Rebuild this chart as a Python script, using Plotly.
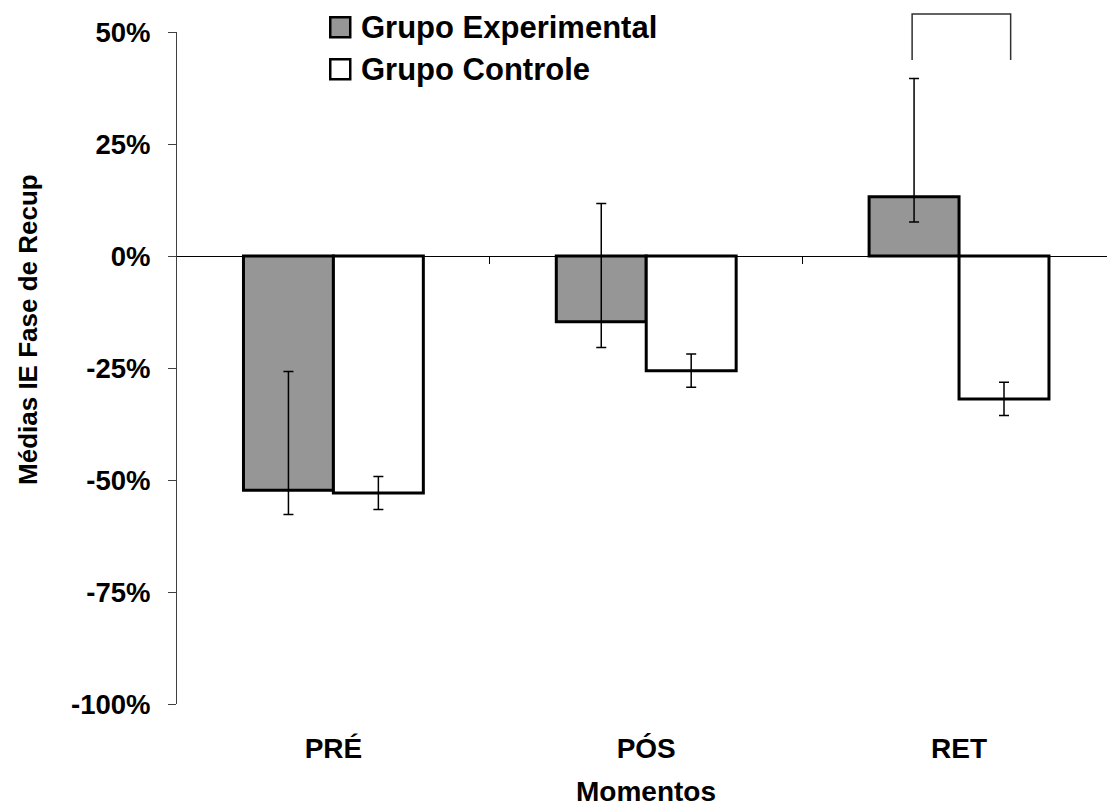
import plotly.graph_objects as go

# ---- data ----
categories = ["PRÉ", "PÓS", "RET"]
exp_vals = [-0.523, -0.147, 0.132]
ctrl_vals = [-0.529, -0.256, -0.319]
exp_err_plus = [0.265, 0.264, 0.264]
exp_err_minus = [0.054, 0.057, 0.056]
ctrl_err = [0.037, 0.037, 0.037]
y_tickvals = [-1.0, -0.75, -0.5, -0.25, 0.0, 0.25, 0.5]
y_ticktext = ["-100%", "-75%", "-50%", "-25%", "0%", "25%", "50%"]
series_names = ["Grupo Experimental", "Grupo Controle"]

FONT = "Liberation Sans, Arial, sans-serif"
GRAY = "#969696"

fig = go.Figure()
fig.add_trace(go.Bar(
    x=categories, y=exp_vals, name=series_names[0],
    marker=dict(color=GRAY, line=dict(color="black", width=3)),
    error_y=dict(type="data", symmetric=False, array=exp_err_plus,
                 arrayminus=exp_err_minus, color="black", thickness=1.5, width=5),
    showlegend=False,
))
fig.add_trace(go.Bar(
    x=categories, y=ctrl_vals, name=series_names[1],
    marker=dict(color="white", line=dict(color="black", width=3)),
    error_y=dict(type="data", array=ctrl_err, color="black", thickness=1.5, width=5),
    showlegend=False,
))
# invisible trace to carry the zero-crossing category axis
fig.add_trace(go.Scatter(x=categories, y=[None, None, None], xaxis="x2", yaxis="y",
                         showlegend=False, hoverinfo="skip", mode="lines"))

xr = [-0.5, 2.473]
fig.update_layout(
    width=1107, height=807,
    margin=dict(l=177, r=0, t=32, b=103),
    plot_bgcolor="white", paper_bgcolor="white",
    barmode="group", bargap=0.425, bargroupgap=0,
    showlegend=False,
    font=dict(family=FONT, color="black"),
    xaxis=dict(type="category", range=xr, showline=False, ticks="",
               showgrid=False, zeroline=False,
               tickfont=dict(family=FONT, size=28, weight="bold", color="black"),
               ticklabelstandoff=25),
    xaxis2=dict(type="category", range=xr, overlaying="x", anchor="free",
                position=2/3, showline=True, linecolor="black", linewidth=1,
                ticks="outside", tickvals=[0.5, 1.5], ticklen=7, tickcolor="black",
                tickwidth=1, showticklabels=False, showgrid=False, zeroline=False),
    yaxis=dict(range=[-1.0, 0.5], tickvals=y_tickvals, ticktext=y_ticktext,
               showline=True, linecolor="#404040", linewidth=1,
               ticks="outside", ticklen=8, tickcolor="#404040",
               showgrid=False, zeroline=False,
               tickfont=dict(family=FONT, size=27.5, weight="bold", color="black"),
               ticklabelstandoff=12),
)

# axis titles
fig.add_annotation(text="Médias IE Fase de Recup", textangle=-90,
                   xref="paper", yref="paper", x=-0.161, y=0.557,
                   xanchor="center", yanchor="middle", showarrow=False,
                   font=dict(family=FONT, size=26, weight="bold", color="black"))
fig.add_annotation(text="Momentos", xref="x", yref="paper", x=1, y=-0.1305,
                   xanchor="center", yanchor="middle", showarrow=False,
                   font=dict(family=FONT, size=28, weight="bold", color="black"))

# custom legend
W = 930.3
H = 672.0
def px(xp):
    return (xp - 176.7) / W
def py(yp):
    return (704.3 - yp) / H

legend_fills = [GRAY, "white"]
legend_rows = [27.5, 69.5]
for name, fill, yc in zip(series_names, legend_fills, legend_rows):
    fig.add_shape(type="rect", xref="paper", yref="paper",
                  x0=px(330), x1=px(350), y0=py(yc - 10), y1=py(yc + 10),
                  fillcolor=fill, line=dict(color="black", width=2.5))
    fig.add_annotation(text=name, xref="paper", yref="paper",
                       x=px(359), y=py(yc), xanchor="left", yanchor="middle",
                       showarrow=False,
                       font=dict(family=FONT, size=31, weight="bold", color="black"))

# significance bracket
bx0, bx1 = 1.850, 2.165
fig.add_shape(type="path", xref="x", yref="paper",
              path=f"M {bx0},{py(60.3)} L {bx0},{py(14.3)} L {bx1},{py(14.3)} L {bx1},{py(60.3)}",
              line=dict(color="#303030", width=1.5))

fig.write_html("out.html")
